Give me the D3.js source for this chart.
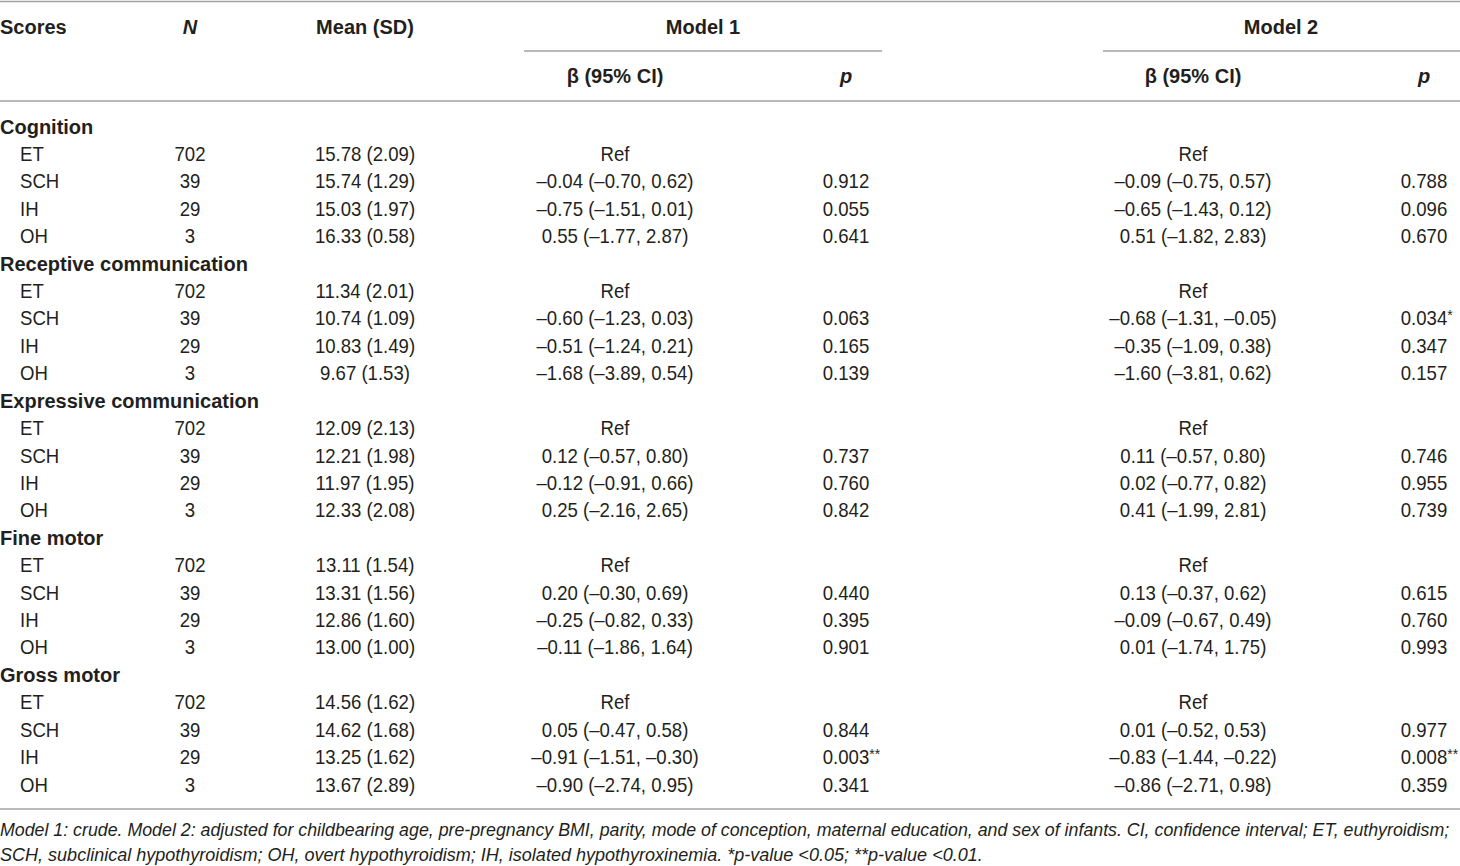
<!DOCTYPE html>
<html>
<head>
<meta charset="utf-8">
<script src="https://cdn.jsdelivr.net/npm/d3@7"></script>
<style>
  body { margin: 0; background: #fff; }
  text { font-family: "Liberation Sans", Arial, Helvetica, sans-serif; fill: #231f20; }
</style>
</head>
<body>
<svg></svg>
<script>
// table content
var domains = ["Cognition", "Receptive communication", "Expressive communication", "Fine motor", "Gross motor"];
var groups = ["ET", "SCH", "IH", "OH"];
var nValues = [702, 39, 29, 3];

var meanVals = [[15.78, 15.74, 15.03, 16.33], [11.34, 10.74, 10.83, 9.67], [12.09, 12.21, 11.97, 12.33], [13.11, 13.31, 12.86, 13.00], [14.56, 14.62, 13.25, 13.67]];
var sdVals = [[2.09, 1.29, 1.97, 0.58], [2.01, 1.09, 1.49, 1.53], [2.13, 1.98, 1.95, 2.08], [1.54, 1.56, 1.60, 1.00], [1.62, 1.68, 1.62, 2.89]];

// model 1: [beta, lower, upper] for SCH, IH, OH (ET is the reference)
var model1Beta = [
  [[-0.04, -0.70, 0.62], [-0.75, -1.51, 0.01], [0.55, -1.77, 2.87]],
  [[-0.60, -1.23, 0.03], [-0.51, -1.24, 0.21], [-1.68, -3.89, 0.54]],
  [[0.12, -0.57, 0.80], [-0.12, -0.91, 0.66], [0.25, -2.16, 2.65]],
  [[0.20, -0.30, 0.69], [-0.25, -0.82, 0.33], [-0.11, -1.86, 1.64]],
  [[0.05, -0.47, 0.58], [-0.91, -1.51, -0.30], [-0.90, -2.74, 0.95]]
];
var model1P = [[0.912, 0.055, 0.641], [0.063, 0.165, 0.139], [0.737, 0.760, 0.842], [0.440, 0.395, 0.901], [0.844, 0.003, 0.341]];

var model2Beta = [
  [[-0.09, -0.75, 0.57], [-0.65, -1.43, 0.12], [0.51, -1.82, 2.83]],
  [[-0.68, -1.31, -0.05], [-0.35, -1.09, 0.38], [-1.60, -3.81, 0.62]],
  [[0.11, -0.57, 0.80], [0.02, -0.77, 0.82], [0.41, -1.99, 2.81]],
  [[0.13, -0.37, 0.62], [-0.09, -0.67, 0.49], [0.01, -1.74, 1.75]],
  [[0.01, -0.52, 0.53], [-0.83, -1.44, -0.22], [-0.86, -2.71, 0.98]]
];
var model2P = [[0.788, 0.096, 0.670], [0.034, 0.347, 0.157], [0.746, 0.955, 0.739], [0.615, 0.760, 0.993], [0.977, 0.008, 0.359]];

var footnotes = [
  "Model 1: crude. Model 2: adjusted for childbearing age, pre-pregnancy BMI, parity, mode of conception, maternal education, and sex of infants. CI, confidence interval; ET, euthyroidism;",
  "SCH, subclinical hypothyroidism; OH, overt hypothyroidism; IH, isolated hypothyroxinemia. *p-value <0.05; **p-value <0.01."
];

var svgWidth = 1460, svgHeight = 866;
var SX = 0.93; // regular face is a bit narrower than Arial

var svg = d3.select("svg")
  .attr("width", svgWidth)
  .attr("height", svgHeight);

var locale = d3.formatLocale({ decimal: ".", thousands: ",", grouping: [3], currency: ["", ""], minus: "\u2013" });
var f2 = locale.format(".2f");
var f3 = locale.format(".3f");

// column centres and row baselines
var colX = d3.scaleOrdinal()
  .domain(["label", "n", "mean", "b1", "p1", "b2", "p2"])
  .range([0, 190, 365, 615, 846, 1193, 1424]);
var nRows = domains.length * (groups.length + 1);
var rowY = d3.scaleLinear()
  .domain([0, nRows - 1])
  .range([133.5, 133.5 + (nRows - 1) * 27.42]);

function txt(x, y, s, o) {
  o = o || {};
  var sx = o.bold || o.noScale ? 1 : SX;
  return svg.append("text")
    .attr("transform", "translate(" + x + "," + y + ") scale(" + sx + ",1)")
    .attr("text-anchor", o.anchor || "middle")
    .style("font-size", (o.size || 20) + "px")
    .style("font-weight", o.bold ? "bold" : null)
    .style("font-style", o.italic ? "italic" : null)
    .text(s);
}

function ci(b) {
  return f2(b[0]) + " (" + f2(b[1]) + ", " + f2(b[2]) + ")";
}

// p value centred on its column, stars hang to the right as superscript
function pCell(x, y, p) {
  var t = txt(x, y, f3(p), { anchor: "start" });
  var w = t.node().getComputedTextLength() * SX;
  t.attr("transform", "translate(" + (x - w / 2) + "," + y + ") scale(" + SX + ",1)");
  var stars = p < 0.01 ? "**" : (p < 0.05 ? "*" : "");
  if (stars) {
    t.append("tspan")
      .attr("dy", -5)
      .style("font-size", "15px")
      .text(stars);
  }
}

// rules
var rule = "#a3a3a3";
function hline(x1, x2, y) {
  svg.append("line")
    .attr("x1", x1).attr("x2", x2)
    .attr("y1", y).attr("y2", y)
    .attr("stroke", rule)
    .attr("stroke-width", 1.6);
}
hline(0, svgWidth, 1.5);
hline(524, 882, 51);
hline(1103, svgWidth, 51);
hline(0, svgWidth, 101);
hline(0, svgWidth, 809);

// header
txt(0, 34, "Scores", { bold: true, anchor: "start" });
txt(colX("n"), 34, "N", { bold: true, italic: true });
txt(colX("mean"), 34, "Mean (SD)", { bold: true });
txt(703, 34, "Model 1", { bold: true });
txt(1281, 34, "Model 2", { bold: true });
txt(colX("b1"), 83, "\u03b2 (95% CI)", { bold: true });
txt(colX("p1"), 83, "p", { bold: true, italic: true });
txt(colX("b2"), 83, "\u03b2 (95% CI)", { bold: true });
txt(colX("p2"), 83, "p", { bold: true, italic: true });

// body
domains.forEach(function(dom, di) {
  var r0 = di * (groups.length + 1);
  txt(colX("label"), rowY(r0), dom, { bold: true, anchor: "start" });
  groups.forEach(function(g, gi) {
    var y = rowY(r0 + gi + 1);
    txt(20, y, g, { anchor: "start" });
    txt(colX("n"), y, nValues[gi]);
    txt(colX("mean"), y, f2(meanVals[di][gi]) + " (" + f2(sdVals[di][gi]) + ")");
    if (gi === 0) {
      txt(colX("b1"), y, "Ref");
      txt(colX("b2"), y, "Ref");
    } else {
      txt(colX("b1"), y, ci(model1Beta[di][gi - 1]));
      pCell(colX("p1"), y, model1P[di][gi - 1]);
      txt(colX("b2"), y, ci(model2Beta[di][gi - 1]));
      pCell(colX("p2"), y, model2P[di][gi - 1]);
    }
  });
});

// footnote: squeeze each line horizontally to the width it has in the source
var footLen = [1450, 983];
footnotes.forEach(function(s, i) {
  var y = 836 + i * 25;
  var t = txt(0, y, s, { anchor: "start", italic: true, size: 19, noScale: true });
  var w = t.node().getComputedTextLength();
  t.attr("transform", "translate(0," + y + ") scale(" + (footLen[i] / w) + ",1)");
});
</script>
</body>
</html>
